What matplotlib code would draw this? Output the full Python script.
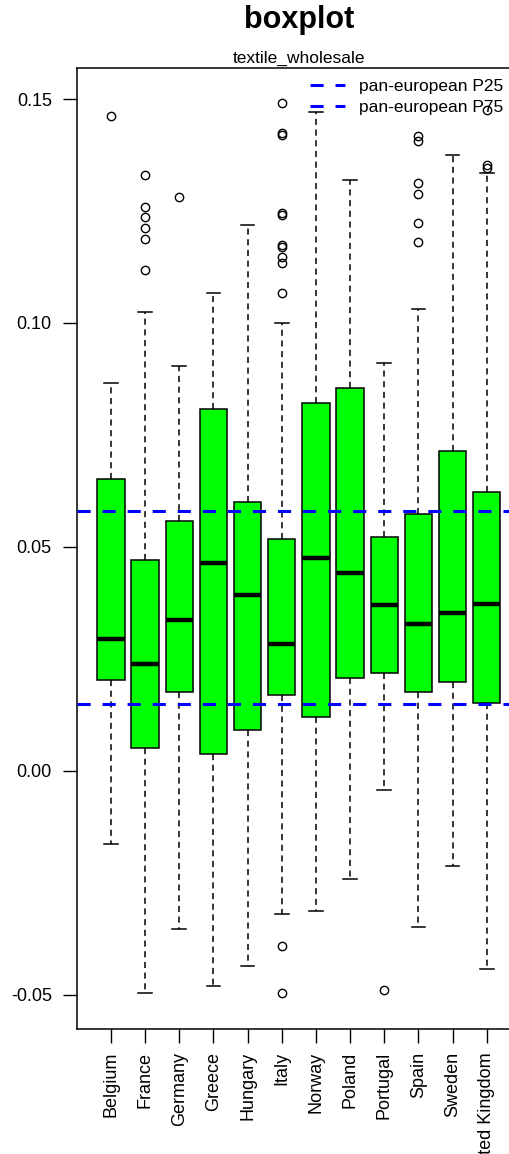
import matplotlib
matplotlib.use("Agg")
import matplotlib.pyplot as plt

plt.rcParams['font.family'] = ['Liberation Sans', 'DejaVu Sans']
plt.rcParams['axes.unicode_minus'] = False

countries = ["Belgium", "France", "Germany", "Greece", "Hungary", "Italy",
             "Norway", "Poland", "Portugal", "Spain", "Sweden", "United Kingdom"]
q1 = [0.0203, 0.0052, 0.0177, 0.0037, 0.0092, 0.0170,
      0.0120, 0.0207, 0.0218, 0.0177, 0.0199, 0.0151]
median = [0.0295, 0.0238, 0.0336, 0.0465, 0.0393, 0.0283,
          0.0476, 0.0443, 0.0371, 0.0329, 0.0352, 0.0373]
q3 = [0.0651, 0.0472, 0.0559, 0.0809, 0.0600, 0.0517,
      0.0821, 0.0854, 0.0522, 0.0574, 0.0715, 0.0623]
whisker_low = [-0.0163, -0.0496, -0.0353, -0.0481, -0.0436, -0.0319,
               -0.0312, -0.0240, -0.0042, -0.0349, -0.0212, -0.0443]
whisker_high = [0.0865, 0.1025, 0.0904, 0.1068, 0.1219, 0.0999,
                0.1472, 0.1319, 0.0911, 0.1032, 0.1376, 0.1335]
outliers = [
    [0.1461],
    [0.1331, 0.1260, 0.1237, 0.1211, 0.1188, 0.1119],
    [0.1282],
    [],
    [],
    [0.1490, 0.1424, 0.1420, 0.1245, 0.1241, 0.1173, 0.1170, 0.1148, 0.1134, 0.1068, -0.0391, -0.0496],
    [],
    [],
    [-0.0489],
    [0.1417, 0.1406, 0.1312, 0.1288, 0.1224, 0.1180],
    [],
    [0.1475, 0.1353, 0.1345],
]
p25 = 0.015
p75 = 0.058
legend_labels = ["pan-european P25", "pan-european P75"]
ytick_values = [-0.05, 0.00, 0.05, 0.10, 0.15]

W, H = 510, 1154
fig = plt.figure(figsize=(W / 100, H / 100), dpi=100)
left, right, top, bottom = 77.5, 520.2, 68, 1028.5
ax = fig.add_axes([left / W, (H - bottom) / H, (right - left) / W, (bottom - top) / H])

stats = []
for i in range(len(countries)):
    stats.append(dict(q1=q1[i], med=median[i], q3=q3[i],
                      whislo=whisker_low[i], whishi=whisker_high[i],
                      fliers=outliers[i], label=countries[i]))

positions = list(range(1, len(countries) + 1))
ax.bxp(stats, positions=positions, widths=0.8, patch_artist=True,
       capwidths=0.4,
       boxprops=dict(facecolor='#00ff00', edgecolor='black', linewidth=1.1),
       medianprops=dict(color='black', linewidth=3.2, solid_capstyle='butt'),
       whiskerprops=dict(color='black', linestyle=(0, (4, 3)), linewidth=1.1),
       capprops=dict(color='black', linewidth=1.1),
       flierprops=dict(marker='o', markerfacecolor='none', markeredgecolor='black',
                       markersize=6, markeredgewidth=1.0, linestyle='none'))

ax.axhline(p25, color='blue', lw=2.2, linestyle=(0, (4.3, 3.9)), zorder=5, label=legend_labels[0])
ax.axhline(p75, color='blue', lw=2.2, linestyle=(0, (4.3, 3.9)), zorder=5, label=legend_labels[1])

ax.set_xlim(0.02, 12.98)
ax.set_ylim(-0.05748, 0.15692)

ax.set_xticks(positions)
ax.set_xticklabels(countries, rotation=90, fontsize=13)
ax.set_yticks(ytick_values)
ax.set_yticklabels(["%.2f" % v for v in ytick_values], fontsize=13)
ax.tick_params(axis='x', length=10, width=1, direction='out', pad=7, colors='black')
ax.tick_params(axis='y', length=10, width=1, direction='out', pad=8.5, colors='black')

for s in ax.spines.values():
    s.set_linewidth(1.1)
    s.set_color('black')

leg = ax.legend(loc='upper left', bbox_to_anchor=((310 - left) / (right - left), 0.9885),
                frameon=False, fontsize=12.5, handlelength=2.0, handletextpad=0.85,
                labelspacing=0.32, borderpad=0, borderaxespad=0)

cx = (left + right) / 2 / W
fig.text(cx, 1 - 28 / H, "boxplot", ha='center', va='baseline', fontsize=22, fontweight='bold')
fig.text(cx, 1 - 63 / H, "textile_wholesale", ha='center', va='baseline', fontsize=12.5)

fig.savefig("out.png", dpi=100)
